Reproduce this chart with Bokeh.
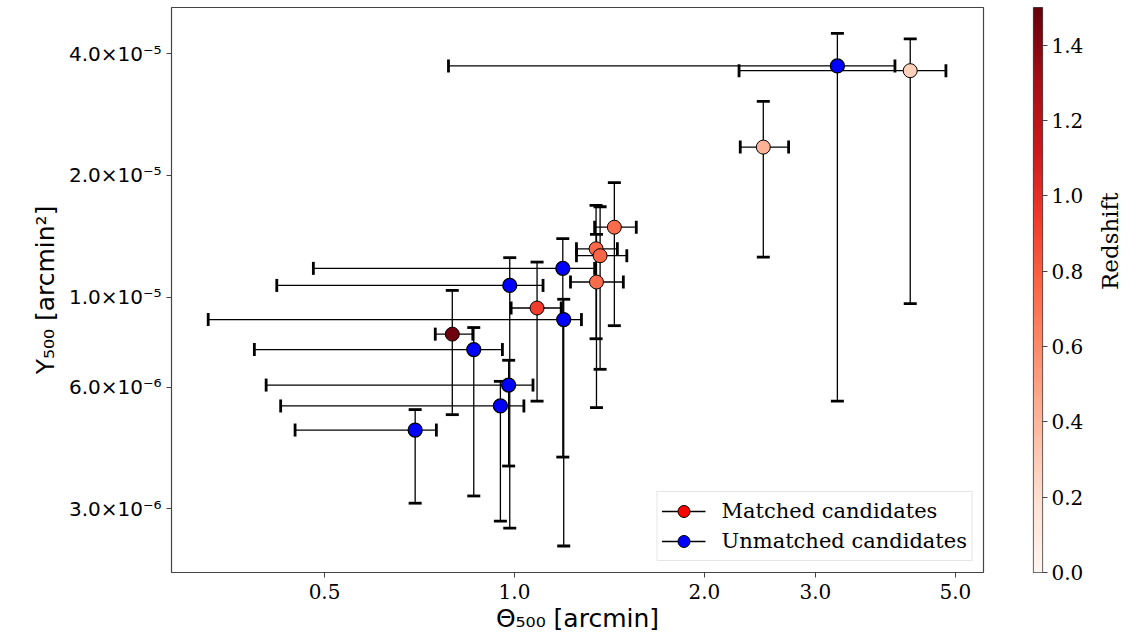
import math
import numpy as np
from bokeh.plotting import figure
from bokeh.layouts import row
from bokeh.models import (ColumnDataSource, Whisker, TeeHead, FixedTicker, CustomJSTickFormatter,
                          LinearColorMapper, Legend, LegendItem, Range1d)
from bokeh.palettes import Reds256
from bokeh.embed import file_html
from bokeh.resources import INLINE

# ---- data ----
m_theta    = [4.24, 2.48, 1.44, 1.347, 1.367, 1.349, 1.086, 0.797]
m_theta_lo = [2.27, 2.28, 1.34, 1.254, 1.254, 1.227, 0.988, 0.749]
m_theta_hi = [4.83, 2.72, 1.56, 1.456, 1.507, 1.488, 1.186, 0.859]
m_y        = [3.63e-5, 2.35e-5, 1.49e-5, 1.318e-5, 1.267e-5, 1.091e-5, 9.41e-6, 8.11e-6]
m_y_lo     = [9.65e-6, 1.257e-5, 8.51e-6, 7.9e-6, 6.64e-6, 5.34e-6, 5.54e-6, 5.13e-6]
m_y_hi     = [4.35e-5, 3.05e-5, 1.92e-5, 1.687e-5, 1.674e-5, 1.43e-5, 1.222e-5, 1.04e-5]
m_z        = [0.27, 0.42, 0.74, 0.76, 0.77, 0.74, 0.93, 1.48]

u_theta    = [3.25, 1.193, 1.197, 0.983, 0.862, 0.979, 0.950, 0.696]
u_theta_lo = [0.786, 0.480, 0.327, 0.420, 0.387, 0.404, 0.426, 0.449]
u_theta_hi = [4.01, 1.34, 1.277, 1.11, 0.957, 1.07, 1.035, 0.752]
u_y        = [3.73e-5, 1.179e-5, 8.81e-6, 1.07e-5, 7.43e-6, 6.07e-6, 5.39e-6, 4.70e-6]
u_y_lo     = [5.54e-6, 4.03e-6, 2.43e-6, 2.69e-6, 3.23e-6, 3.83e-6, 2.80e-6, 3.10e-6]
u_y_hi     = [4.49e-5, 1.396e-5, 9.89e-6, 1.253e-5, 8.42e-6, 6.99e-6, 6.2e-6, 5.28e-6]

x_ticks = [0.5, 1.0, 2.0, 3.0, 5.0]
y_ticks = [3e-6, 6e-6, 1e-5, 2e-5, 4e-5]
cb_ticks = [0.0, 0.2, 0.4, 0.6, 0.8, 1.0, 1.2, 1.4]
z_low, z_high = 0.0, 1.5

SERIF = "DejaVu Serif"
SANS = "DejaVu Sans"
FRAME = "#444444"

p = figure(width=1000, height=635, x_axis_type="log", y_axis_type="log",
           x_range=Range1d(0.286, 5.54), y_range=Range1d(2.09e-6, 5.2e-5),
           output_backend="svg", toolbar_location=None,
           min_border_left=171, min_border_right=17, min_border_top=7, min_border_bottom=63)
p.grid.visible = False
p.outline_line_color = FRAME
p.outline_line_width = 1.2

src_m = ColumnDataSource(dict(x=m_theta, xl=m_theta_lo, xh=m_theta_hi,
                              y=m_y, yl=m_y_lo, yh=m_y_hi, z=m_z))
src_u = ColumnDataSource(dict(x=u_theta, xl=u_theta_lo, xh=u_theta_hi,
                              y=u_y, yl=u_y_lo, yh=u_y_hi))

def add_err(src):
    for dim, base, lo, hi in (("width", "y", "xl", "xh"), ("height", "x", "yl", "yh")):
        w = Whisker(source=src, base=base, lower=lo, upper=hi, dimension=dim,
                    line_color="black", line_width=1.3,
                    lower_head=TeeHead(size=13, line_width=2.8, line_color="black"),
                    upper_head=TeeHead(size=13, line_width=2.8, line_color="black"))
        p.add_layout(w)

add_err(src_m)
add_err(src_u)

mapper = LinearColorMapper(palette=list(reversed(Reds256)), low=z_low, high=z_high)

p.scatter("x", "y", source=src_m, size=14, marker="circle",
          fill_color={"field": "z", "transform": mapper}, line_color="black", line_width=1)
p.scatter("x", "y", source=src_u, size=14, marker="circle",
          fill_color="#0000ff", line_color="black", line_width=1.3)

# axes
p.xaxis.ticker = FixedTicker(ticks=x_ticks, minor_ticks=[])
p.xaxis.formatter = CustomJSTickFormatter(code="return tick.toFixed(1);")
p.yaxis.ticker = FixedTicker(ticks=y_ticks, minor_ticks=[])
p.yaxis.formatter = CustomJSTickFormatter(code="""
const sup = {'-':'\u207b','0':'\u2070','1':'\u00b9','2':'\u00b2','3':'\u00b3','4':'\u2074','5':'\u2075','6':'\u2076','7':'\u2077','8':'\u2078','9':'\u2079'};
const e = Math.floor(Math.log10(tick) + 1e-9);
const m = tick / Math.pow(10, e);
return m.toFixed(1) + '\u00d710' + String(e).split('').map(c => sup[c]).join('');
""")
for ax in (p.xaxis, p.yaxis):
    ax.axis_line_color = None
    ax.major_tick_line_color = FRAME
    ax.major_tick_out = 5
    ax.major_tick_in = 0
    ax.minor_tick_line_color = None
    ax.major_label_text_color = "black"
    ax.axis_label_text_color = "black"
    ax.axis_label_text_font_style = "normal"
    ax.axis_label_text_font = SANS
    ax.axis_label_text_font_size = "25px"

p.xaxis.major_label_text_font = SERIF
p.xaxis.major_label_text_font_size = "20px"
p.yaxis.major_label_text_font = SANS
p.yaxis.major_label_text_font_size = "20px"
p.xaxis.axis_label = "\u0398\u2085\u2080\u2080 [arcmin]"
p.yaxis.axis_label = "Y\u2085\u2080\u2080 [arcmin\u00b2]"
p.xaxis.major_label_standoff = 6
p.yaxis.major_label_standoff = 5
p.xaxis.axis_label_standoff = 2
p.yaxis.axis_label_standoff = 6

# legend with dummy renderers
nan = float("nan")
lr1 = p.line([nan, nan], [nan, nan], line_color="black", line_width=1.6)
sr1 = p.scatter([nan], [nan], size=16, fill_color="#ff0000", line_color="black", line_width=1)
lr2 = p.line([nan, nan], [nan, nan], line_color="black", line_width=1.6)
sr2 = p.scatter([nan], [nan], size=16, fill_color="#0000ff", line_color="black", line_width=1)
legend = Legend(items=[LegendItem(label="Matched candidates", renderers=[lr1, sr1]),
                       LegendItem(label="Unmatched candidates", renderers=[lr2, sr2])],
                location="bottom_right", margin=11, padding=4, spacing=0,
                glyph_width=44, glyph_height=30, label_standoff=16,
                label_text_font=SERIF, label_text_font_size="21px", label_text_color="black",
                border_line_color="#cccccc", border_line_width=1,
                background_fill_alpha=0.8)
p.add_layout(legend, "center")

# colorbar as its own narrow figure
cb = figure(width=139, height=635, x_range=Range1d(0, 1), y_range=Range1d(z_low, z_high),
            y_axis_location="right", output_backend="svg", toolbar_location=None,
            min_border_left=33, min_border_right=77, min_border_top=7, min_border_bottom=63)
cb.grid.visible = False
cb.xaxis.visible = False
cb.outline_line_color = FRAME
cb.outline_line_width = 1.2
grad = np.linspace(z_low, z_high, 300).reshape(300, 1)
cb.image(image=[grad], x=0, y=z_low, dw=1, dh=z_high - z_low, color_mapper=mapper)
ya = cb.yaxis[0]
ya.ticker = FixedTicker(ticks=cb_ticks, minor_ticks=[])
ya.formatter = CustomJSTickFormatter(code="return tick.toFixed(1);")
ya.axis_line_color = None
ya.major_tick_line_color = FRAME
ya.major_tick_out = 5
ya.major_tick_in = 0
ya.minor_tick_line_color = None
ya.major_label_text_font = SERIF
ya.major_label_text_font_size = "20px"
ya.major_label_text_color = "black"
ya.major_label_standoff = 4
ya.axis_label = "Redshift"
ya.axis_label_text_font = SERIF
ya.axis_label_text_font_size = "23px"
ya.axis_label_text_font_style = "normal"
ya.axis_label_text_color = "black"
ya.axis_label_standoff = 24
if hasattr(ya, "axis_label_orientation"):
    ya.axis_label_orientation = math.pi / 2

layout = row(p, cb, spacing=0)
open("out.html", "w").write(file_html(layout, INLINE))
